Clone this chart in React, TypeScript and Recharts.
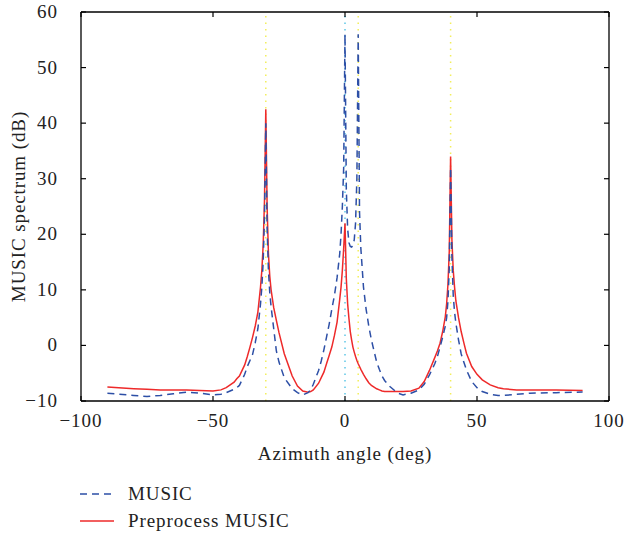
import React from 'react';
import { LineChart, Line, XAxis, YAxis, ReferenceLine } from 'recharts';

const angles = [
  -90, -80, -75, -70, -65, -60, -55, -50, -47, -45, -42, -41, -40, -38, -37, -36, -35, -34, -33, -32,
  -31.5, -31, -30.5, -30, -29.5, -29, -28.5, -28, -27, -26, -25, -23, -20, -18, -16, -14, -13, -12, -10, -9,
  -8, -7, -6, -5, -4, -3, -2, -1.5, -1, -0.5, 0, 0.5, 1, 1.5, 2, 2.5, 3, 3.5, 4, 4.5,
  5, 5.5, 6, 7, 8, 9, 10, 12, 13, 14, 15, 17, 20, 22, 25, 28, 30, 32, 34, 35,
  36, 37, 38, 38.5, 39, 39.5, 40, 40.5, 41, 41.5, 42, 43, 44, 45, 46, 48, 50, 52, 55, 58,
  60, 65, 70, 80, 90,
];

const music = [
  -8.6, -9.0, -9.2, -9.0, -8.7, -8.4, -8.6, -8.9, -8.8, -8.5, -7.9, -7.6, -7.2, -5.2, -3.8, -2.7, -1.6, 0.5, 3, 7.5,
  10.5, 15, 23, 40, 21, 13.5, 9.5, 7, 3, -1, -3, -5.8, -7.8, -8.5, -8.9, -8.5, -8.0, -7.0, -4.5, -2.8,
  -0.8, 1.5, 3.8, 6.5, 9, 12.2, 16.5, 20, 25, 32, 56, 28, 21, 18.5, 17.8, 17.7, 18, 19, 22, 30,
  56, 24, 17.5, 10.5, 6.5, 3.5, 1, -3, -4.3, -5.5, -6.3, -7.4, -8.6, -8.9, -8.6, -8.0, -7.0, -5.3, -3.3, -2,
  -0.3, 1.5, 3.5, 5, 8, 14, 32, 16, 9, 6, 4, 1, -1.5, -3, -4.4, -6.5, -7.6, -8.3, -8.8, -9.0,
  -9.0, -8.8, -8.6, -8.5, -8.4,
];

const preprocess = [
  -7.5, -7.8, -7.9, -8.0, -8.0, -8.0, -8.1, -8.2, -8.0, -7.6, -6.6, -6.0, -5.5, -3.5, -2.0, -0.3, 1.5, 3.5, 6, 10.5,
  13.5, 18, 26, 42.5, 25, 16.5, 12.5, 10, 6.8, 4.5, 2.3, -1.5, -5.5, -7.3, -8.2, -8.4, -8.3, -8.0, -6.8, -5.8,
  -4.8, -3.3, -1.8, -0.3, 1.8, 4.2, 8.3, 10.5, 13.5, 17.5, 22, 12, 7.5, 4.8, 2.5, 1, -0.3, -1.2, -2, -2.7,
  -3.3, -3.8, -4.3, -5.2, -6, -6.7, -7.2, -7.8, -8.0, -8.2, -8.3, -8.3, -8.3, -8.3, -8.2, -7.7, -6.5, -4.5, -2.2, -1.0,
  0.4, 2.5, 5.2, 7.5, 11, 17, 34, 19, 13.5, 10.5, 8, 5, 2.5, 0.5, -1.4, -3.8, -5.2, -6.2, -7.1, -7.6,
  -7.8, -8.0, -8.0, -8.0, -8.1,
];

const xTicks = [-100, -50, 0, 50, 100];
const yTicks = [-10, 0, 10, 20, 30, 40, 50, 60];
const xDomain = [-100, 100];
const yDomain = [-10, 60];
const yellowMarks = [-30, 5, 40];
const cyanMarks = [0];

const data = angles.map((a, i) => ({ angle: a, music: music[i], preprocess: preprocess[i] }));

const W = 624;
const H = 542;
const margin = { top: 12, right: 15, left: 0, bottom: 102 };
const yAxisWidth = 81;
const xAxisHeight = 39;
// plot box, used only for the frame overlay
const box = {
  left: margin.left + yAxisWidth,
  right: W - margin.right,
  top: margin.top,
  bottom: H - margin.bottom - xAxisHeight,
};

const font = '"Liberation Serif", "Times New Roman", serif';
const textColor = '#222';
const blue = '#2d4fa6';
const red = '#ee2a2a';
const fmt = (v: number) => String(v).replace('-', '\u2212');

const BottomTick = ({ x, y, payload }: any) => (
  <g>
    <line x1={x} x2={x} y1={y} y2={y - 5} stroke="#000" strokeWidth={1.2} />
    <text x={x} y={y + 26} textAnchor="middle" fontFamily={font} fontSize={19} letterSpacing={1} fill={textColor}>{fmt(payload.value)}</text>
  </g>
);

const LeftTick = ({ x, y, payload }: any) => (
  <g>
    <line x1={x} x2={x + 5} y1={y} y2={y} stroke="#000" strokeWidth={1.2} />
    <text x={x - 23} y={y + 6} textAnchor="end" fontFamily={font} fontSize={19} letterSpacing={1} fill={textColor}>{fmt(payload.value)}</text>
  </g>
);

const legendItems = [
  { name: 'MUSIC', color: blue, dash: '7 5' },
  { name: 'Preprocess MUSIC', color: red, dash: undefined },
];

// top and right edges of the box with inward ticks
const Frame = () => {
  const px = (v: number) => box.left + ((v - xDomain[0]) / (xDomain[1] - xDomain[0])) * (box.right - box.left);
  const py = (v: number) => box.bottom - ((v - yDomain[0]) / (yDomain[1] - yDomain[0])) * (box.bottom - box.top);
  return (
    <svg width={W} height={H} style={{ position: 'absolute', left: 0, top: 0, pointerEvents: 'none' }}>
      <line x1={box.left} x2={box.right} y1={box.top} y2={box.top} stroke="#000" strokeWidth={1.3} />
      <line x1={box.right} x2={box.right} y1={box.top} y2={box.bottom} stroke="#000" strokeWidth={1.3} />
      {xTicks.map((t) => (
        <line key={`t${t}`} x1={px(t)} x2={px(t)} y1={box.top} y2={box.top + 5} stroke="#000" strokeWidth={1.2} />
      ))}
      {yTicks.map((t) => (
        <line key={`r${t}`} x1={box.right} x2={box.right - 5} y1={py(t)} y2={py(t)} stroke="#000" strokeWidth={1.2} />
      ))}
    </svg>
  );
};

export default function App() {
  return (
    <div style={{ position: 'absolute', left: 0, top: 0, width: W, height: H, background: '#fff' }}>
      <LineChart width={W} height={H} data={data} margin={margin}>
        <XAxis
          dataKey="angle" type="number" domain={xDomain} ticks={xTicks} allowDataOverflow
          height={xAxisHeight} tickSize={0} tickMargin={0} tick={<BottomTick />}
          stroke="#000" strokeWidth={1.3}
          label={{ value: 'Azimuth angle (deg)', position: 'insideBottom', offset: -20, fontFamily: font, fontSize: 19, letterSpacing: 0.9, fill: textColor }}
        />
        <YAxis
          type="number" domain={yDomain} ticks={yTicks} width={yAxisWidth} allowDataOverflow
          tickSize={0} tickMargin={0} tick={<LeftTick />} stroke="#000" strokeWidth={1.3}
          label={{ value: 'MUSIC spectrum (dB)', angle: -90, position: 'insideLeft', offset: 18, fontFamily: font, fontSize: 19, letterSpacing: 0.9, fill: textColor, style: { textAnchor: 'middle' } }}
        />
        {yellowMarks.map((m) => (
          <ReferenceLine key={`y${m}`} x={m} stroke="#f2ee5a" strokeWidth={1.5} strokeDasharray="1.5 5" />
        ))}
        {cyanMarks.map((m) => (
          <ReferenceLine key={`c${m}`} x={m} stroke="#5ec6e6" strokeWidth={1.5} strokeDasharray="1.5 5" />
        ))}
        <Line type="linear" dataKey="preprocess" stroke={red} strokeWidth={1.5} dot={false} isAnimationActive={false} name="Preprocess MUSIC" />
        <Line type="linear" dataKey="music" stroke={blue} strokeWidth={1.5} strokeDasharray="7 5" dot={false} isAnimationActive={false} name="MUSIC" />
      </LineChart>
      <Frame />
      <div style={{ position: 'absolute', left: 80, top: 480, fontFamily: font, fontSize: 19, letterSpacing: 0.9, color: textColor }}>
        {legendItems.map((it) => (
          <div key={it.name} style={{ display: 'flex', alignItems: 'center', height: 27 }}>
            <svg width={48} height={10}>
              <line x1={0} x2={34} y1={5} y2={5} stroke={it.color} strokeWidth={1.5} strokeDasharray={it.dash} />
            </svg>
            <span>{it.name}</span>
          </div>
        ))}
      </div>
    </div>
  );
}
